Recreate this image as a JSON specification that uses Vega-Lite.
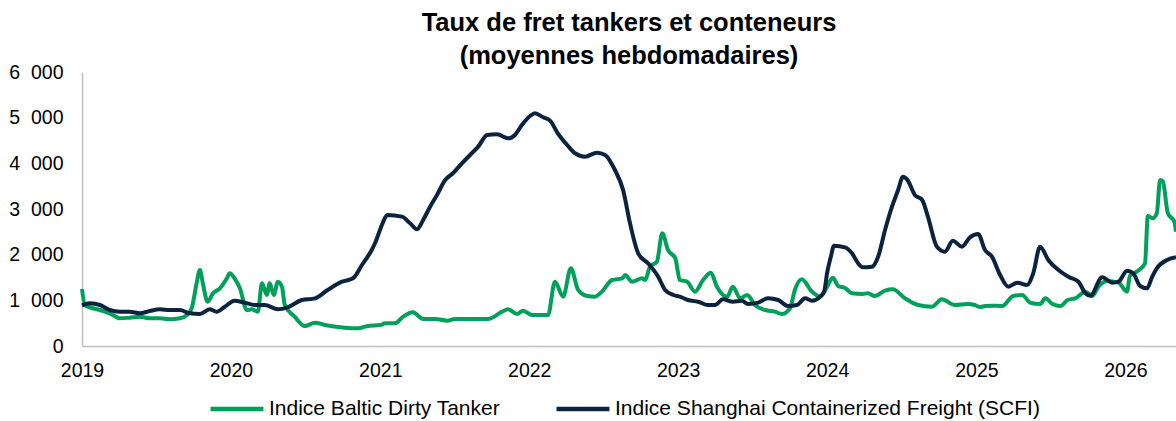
{
  "$schema": "https://vega.github.io/schema/vega-lite/v6.json",
  "width": 1094,
  "height": 274,
  "autosize": {"type": "none"},
  "padding": {"left": 82, "top": 72, "right": 0, "bottom": 75},
  "background": "white",
  "title": {
    "text": ["Taux de fret tankers et conteneurs", "(moyennes hebdomadaires)"],
    "font": "Liberation Sans",
    "fontSize": 25.5,
    "fontWeight": "bold",
    "color": "#000000",
    "anchor": "middle",
    "lineHeight": 33,
    "offset": -7
  },
  "config": {
    "view": {"stroke": null},
    "axis": {
      "labelFont": "Liberation Sans",
      "labelFontSize": 19.5,
      "labelColor": "#000000",
      "ticks": false,
      "grid": false,
      "domainColor": "#bfbfbf",
      "domainWidth": 1.5,
      "title": null
    },
    "legend": {
      "labelFont": "Liberation Sans",
      "labelFontSize": 21,
      "labelColor": "#000000",
      "labelLimit": 700
    }
  },
  "datasets": {
    "baltic": [
      {"date": "2019-01-01", "value": 1248}, {"date": "2019-01-08", "value": 898}, {"date": "2019-02-14", "value": 788},
      {"date": "2019-03-10", "value": 716}, {"date": "2019-04-04", "value": 606}, {"date": "2019-04-28", "value": 620},
      {"date": "2019-05-23", "value": 642}, {"date": "2019-06-16", "value": 606}, {"date": "2019-07-11", "value": 606},
      {"date": "2019-08-04", "value": 584}, {"date": "2019-08-29", "value": 606}, {"date": "2019-09-15", "value": 679},
      {"date": "2019-09-27", "value": 832}, {"date": "2019-10-09", "value": 1380}, {"date": "2019-10-17", "value": 1664},
      {"date": "2019-10-24", "value": 1380}, {"date": "2019-11-05", "value": 971}, {"date": "2019-11-18", "value": 1154},
      {"date": "2019-12-05", "value": 1263}, {"date": "2019-12-22", "value": 1482}, {"date": "2019-12-29", "value": 1591},
      {"date": "2020-01-10", "value": 1482}, {"date": "2020-01-23", "value": 1263}, {"date": "2020-02-09", "value": 788},
      {"date": "2020-02-21", "value": 803}, {"date": "2020-03-07", "value": 752}, {"date": "2020-03-17", "value": 1372},
      {"date": "2020-03-29", "value": 1117}, {"date": "2020-04-05", "value": 1372}, {"date": "2020-04-15", "value": 1117},
      {"date": "2020-04-25", "value": 1408}, {"date": "2020-05-05", "value": 1299}, {"date": "2020-05-12", "value": 898},
      {"date": "2020-06-05", "value": 642}, {"date": "2020-06-30", "value": 438}, {"date": "2020-07-25", "value": 511},
      {"date": "2020-08-18", "value": 460}, {"date": "2020-10-06", "value": 401}, {"date": "2020-11-07", "value": 387},
      {"date": "2020-12-01", "value": 438}, {"date": "2021-01-01", "value": 460}, {"date": "2021-01-13", "value": 496},
      {"date": "2021-02-06", "value": 496}, {"date": "2021-02-26", "value": 642}, {"date": "2021-03-22", "value": 737},
      {"date": "2021-04-16", "value": 591}, {"date": "2021-05-15", "value": 591}, {"date": "2021-06-14", "value": 555},
      {"date": "2021-07-03", "value": 591}, {"date": "2021-08-04", "value": 591}, {"date": "2021-09-22", "value": 591},
      {"date": "2021-10-27", "value": 752}, {"date": "2021-11-10", "value": 803}, {"date": "2021-12-02", "value": 700},
      {"date": "2021-12-17", "value": 774}, {"date": "2022-01-08", "value": 679}, {"date": "2022-02-16", "value": 679},
      {"date": "2022-03-05", "value": 1408}, {"date": "2022-03-25", "value": 1080}, {"date": "2022-04-13", "value": 1701},
      {"date": "2022-05-01", "value": 1226}, {"date": "2022-05-23", "value": 1095}, {"date": "2022-06-11", "value": 1080},
      {"date": "2022-06-28", "value": 1190}, {"date": "2022-07-23", "value": 1445}, {"date": "2022-08-17", "value": 1482},
      {"date": "2022-08-24", "value": 1555}, {"date": "2022-09-10", "value": 1408}, {"date": "2022-10-05", "value": 1482},
      {"date": "2022-10-12", "value": 1445}, {"date": "2022-10-24", "value": 1737}, {"date": "2022-11-10", "value": 1847},
      {"date": "2022-11-23", "value": 2468}, {"date": "2022-12-07", "value": 2102}, {"date": "2022-12-25", "value": 1920},
      {"date": "2023-01-05", "value": 1445}, {"date": "2023-01-23", "value": 1408}, {"date": "2023-02-11", "value": 1190},
      {"date": "2023-03-03", "value": 1445}, {"date": "2023-03-22", "value": 1605}, {"date": "2023-04-06", "value": 1299},
      {"date": "2023-05-01", "value": 1080}, {"date": "2023-05-15", "value": 1299}, {"date": "2023-06-02", "value": 1044},
      {"date": "2023-06-19", "value": 1117}, {"date": "2023-07-08", "value": 898}, {"date": "2023-08-02", "value": 788},
      {"date": "2023-08-26", "value": 752}, {"date": "2023-09-12", "value": 700}, {"date": "2023-10-02", "value": 825},
      {"date": "2023-10-14", "value": 1226}, {"date": "2023-10-31", "value": 1460}, {"date": "2023-11-25", "value": 1190},
      {"date": "2023-12-15", "value": 1080}, {"date": "2024-01-01", "value": 1299}, {"date": "2024-01-15", "value": 1496},
      {"date": "2024-01-28", "value": 1314}, {"date": "2024-02-14", "value": 1270}, {"date": "2024-03-02", "value": 1154},
      {"date": "2024-03-27", "value": 1139}, {"date": "2024-04-10", "value": 1154}, {"date": "2024-04-27", "value": 1095},
      {"date": "2024-05-22", "value": 1212}, {"date": "2024-06-10", "value": 1241}, {"date": "2024-07-10", "value": 1044},
      {"date": "2024-08-11", "value": 898}, {"date": "2024-09-14", "value": 861}, {"date": "2024-10-08", "value": 1022},
      {"date": "2024-11-09", "value": 898}, {"date": "2024-12-11", "value": 920}, {"date": "2024-12-28", "value": 898},
      {"date": "2025-01-10", "value": 854}, {"date": "2025-01-22", "value": 876}, {"date": "2025-02-08", "value": 884},
      {"date": "2025-03-05", "value": 876}, {"date": "2025-04-01", "value": 1095}, {"date": "2025-04-23", "value": 1117},
      {"date": "2025-05-13", "value": 948}, {"date": "2025-06-06", "value": 920}, {"date": "2025-06-19", "value": 1044},
      {"date": "2025-07-06", "value": 920}, {"date": "2025-07-26", "value": 876}, {"date": "2025-08-12", "value": 1007},
      {"date": "2025-08-31", "value": 1044}, {"date": "2025-09-25", "value": 1190}, {"date": "2025-10-12", "value": 1095},
      {"date": "2025-10-27", "value": 1299}, {"date": "2025-11-18", "value": 1423}, {"date": "2025-12-15", "value": 1387},
      {"date": "2026-01-05", "value": 1190}, {"date": "2026-01-12", "value": 1533}, {"date": "2026-02-01", "value": 1650},
      {"date": "2026-02-18", "value": 1811}, {"date": "2026-02-25", "value": 2847}, {"date": "2026-03-09", "value": 2800},
      {"date": "2026-03-19", "value": 2906}, {"date": "2026-03-27", "value": 3635}, {"date": "2026-04-03", "value": 3600},
      {"date": "2026-04-15", "value": 2906}, {"date": "2026-05-01", "value": 2722}, {"date": "2026-05-05", "value": 2500}
    ],
    "scfi": [
      {"date": "2019-01-01", "value": 890}, {"date": "2019-01-20", "value": 935}, {"date": "2019-02-14", "value": 898},
      {"date": "2019-03-10", "value": 788}, {"date": "2019-04-04", "value": 752}, {"date": "2019-04-28", "value": 752},
      {"date": "2019-05-23", "value": 716}, {"date": "2019-06-16", "value": 766}, {"date": "2019-07-11", "value": 803},
      {"date": "2019-08-04", "value": 788}, {"date": "2019-08-29", "value": 788}, {"date": "2019-09-22", "value": 716},
      {"date": "2019-10-17", "value": 700}, {"date": "2019-11-10", "value": 803}, {"date": "2019-11-27", "value": 752},
      {"date": "2019-12-17", "value": 861}, {"date": "2020-01-10", "value": 992}, {"date": "2020-02-04", "value": 948},
      {"date": "2020-02-28", "value": 898}, {"date": "2020-03-24", "value": 898}, {"date": "2020-04-25", "value": 803},
      {"date": "2020-05-19", "value": 847}, {"date": "2020-06-23", "value": 1007}, {"date": "2020-07-25", "value": 1044},
      {"date": "2020-08-25", "value": 1226}, {"date": "2020-09-29", "value": 1408}, {"date": "2020-10-26", "value": 1482},
      {"date": "2020-11-17", "value": 1774}, {"date": "2020-12-11", "value": 2102}, {"date": "2020-12-19", "value": 2249},
      {"date": "2021-01-05", "value": 2650}, {"date": "2021-01-18", "value": 2869}, {"date": "2021-02-23", "value": 2832},
      {"date": "2021-03-15", "value": 2687}, {"date": "2021-04-01", "value": 2556}, {"date": "2021-04-16", "value": 2759},
      {"date": "2021-05-03", "value": 3051}, {"date": "2021-05-20", "value": 3307}, {"date": "2021-06-09", "value": 3635},
      {"date": "2021-06-28", "value": 3782}, {"date": "2021-07-20", "value": 4001}, {"date": "2021-08-09", "value": 4183},
      {"date": "2021-08-29", "value": 4365}, {"date": "2021-09-20", "value": 4621}, {"date": "2021-10-14", "value": 4636},
      {"date": "2021-11-10", "value": 4548}, {"date": "2021-11-27", "value": 4621}, {"date": "2021-12-14", "value": 4840},
      {"date": "2022-01-03", "value": 5037}, {"date": "2022-01-15", "value": 5096}, {"date": "2022-02-04", "value": 5008},
      {"date": "2022-02-21", "value": 4935}, {"date": "2022-03-12", "value": 4658}, {"date": "2022-04-04", "value": 4402},
      {"date": "2022-04-23", "value": 4220}, {"date": "2022-05-18", "value": 4146}, {"date": "2022-06-16", "value": 4234},
      {"date": "2022-07-06", "value": 4183}, {"date": "2022-07-30", "value": 3854}, {"date": "2022-08-19", "value": 3416},
      {"date": "2022-09-05", "value": 2687}, {"date": "2022-09-25", "value": 2030}, {"date": "2022-10-19", "value": 1811},
      {"date": "2022-11-13", "value": 1518}, {"date": "2022-11-30", "value": 1226}, {"date": "2022-12-20", "value": 1117},
      {"date": "2023-01-05", "value": 1080}, {"date": "2023-01-25", "value": 1007}, {"date": "2023-02-19", "value": 970},
      {"date": "2023-03-15", "value": 898}, {"date": "2023-04-01", "value": 898}, {"date": "2023-04-21", "value": 1022},
      {"date": "2023-05-15", "value": 970}, {"date": "2023-06-06", "value": 990}, {"date": "2023-06-21", "value": 920},
      {"date": "2023-07-16", "value": 950}, {"date": "2023-08-09", "value": 1044}, {"date": "2023-09-03", "value": 1007},
      {"date": "2023-09-27", "value": 876}, {"date": "2023-10-19", "value": 898}, {"date": "2023-11-08", "value": 1044},
      {"date": "2023-11-25", "value": 990}, {"date": "2023-12-15", "value": 1080}, {"date": "2023-12-25", "value": 1200},
      {"date": "2024-01-01", "value": 1600}, {"date": "2024-01-10", "value": 1950}, {"date": "2024-01-18", "value": 2197},
      {"date": "2024-02-14", "value": 2161}, {"date": "2024-03-02", "value": 2030}, {"date": "2024-03-17", "value": 1811},
      {"date": "2024-03-29", "value": 1723}, {"date": "2024-04-20", "value": 1737}, {"date": "2024-05-05", "value": 1956},
      {"date": "2024-05-22", "value": 2540}, {"date": "2024-06-08", "value": 3051}, {"date": "2024-06-23", "value": 3416},
      {"date": "2024-07-05", "value": 3708}, {"date": "2024-07-15", "value": 3650}, {"date": "2024-08-03", "value": 3307},
      {"date": "2024-08-21", "value": 3197}, {"date": "2024-09-04", "value": 2832}, {"date": "2024-09-26", "value": 2175},
      {"date": "2024-10-16", "value": 2066}, {"date": "2024-11-04", "value": 2306}, {"date": "2024-11-26", "value": 2175},
      {"date": "2024-12-16", "value": 2380}, {"date": "2025-01-05", "value": 2453}, {"date": "2025-01-22", "value": 2102},
      {"date": "2025-02-08", "value": 1956}, {"date": "2025-02-28", "value": 1555}, {"date": "2025-03-20", "value": 1299},
      {"date": "2025-04-11", "value": 1387}, {"date": "2025-05-05", "value": 1336}, {"date": "2025-05-20", "value": 1591},
      {"date": "2025-06-06", "value": 2175}, {"date": "2025-06-26", "value": 1883}, {"date": "2025-07-21", "value": 1664},
      {"date": "2025-08-14", "value": 1518}, {"date": "2025-09-08", "value": 1408}, {"date": "2025-09-25", "value": 1154},
      {"date": "2025-10-07", "value": 1102}, {"date": "2025-11-05", "value": 1504}, {"date": "2025-11-30", "value": 1387},
      {"date": "2025-12-15", "value": 1408}, {"date": "2026-01-05", "value": 1650}, {"date": "2026-01-20", "value": 1591},
      {"date": "2026-02-06", "value": 1314}, {"date": "2026-02-23", "value": 1263}, {"date": "2026-03-07", "value": 1504},
      {"date": "2026-03-19", "value": 1701}, {"date": "2026-04-13", "value": 1883}, {"date": "2026-05-05", "value": 1942}
    ]
  },
  "encoding": {
    "x": {
      "field": "date",
      "type": "temporal",
      "scale": {"domain": [{"year": 2019, "month": 1, "date": 1}, {"year": 2026, "month": 5, "date": 5}]},
      "axis": {"format": "%Y", "tickCount": {"interval": "year", "step": 1}, "labelFlush": false, "labelOverlap": false, "labelBound": false, "labelPadding": 15}
    },
    "y": {
      "field": "value",
      "type": "quantitative",
      "scale": {"domain": [0, 6000], "nice": false},
      "axis": {"values": [0, 1000, 2000, 3000, 4000, 5000, 6000], "labelExpr": "replace(format(datum.value, ','), ',', '\u2007')", "labelPadding": 19}
    }
  },
  "layer": [
    {
      "data": {"name": "baltic"},
      "mark": {"type": "line", "strokeWidth": 4, "interpolate": "monotone"},
      "encoding": {
        "color": {
          "datum": "Indice Baltic Dirty Tanker",
          "type": "nominal",
          "scale": {"domain": ["Indice Baltic Dirty Tanker", "Indice Shanghai Containerized Freight (SCFI)"], "range": ["#00a05a", "#0c2340"]},
          "legend": {
            "orient": "none",
            "legendX": 126,
            "legendY": 308,
            "direction": "horizontal",
            "title": null,
            "symbolType": "stroke",
            "symbolSize": 2800,
            "symbolStrokeWidth": 4.5,
            "labelOffset": 3,
            "labelLimit": 700,
            "columnPadding": 46
          }
        }
      }
    },
    {
      "data": {"name": "scfi"},
      "mark": {"type": "line", "strokeWidth": 4, "interpolate": "monotone"},
      "encoding": {
        "color": {"datum": "Indice Shanghai Containerized Freight (SCFI)", "type": "nominal"}
      }
    }
  ]
}
